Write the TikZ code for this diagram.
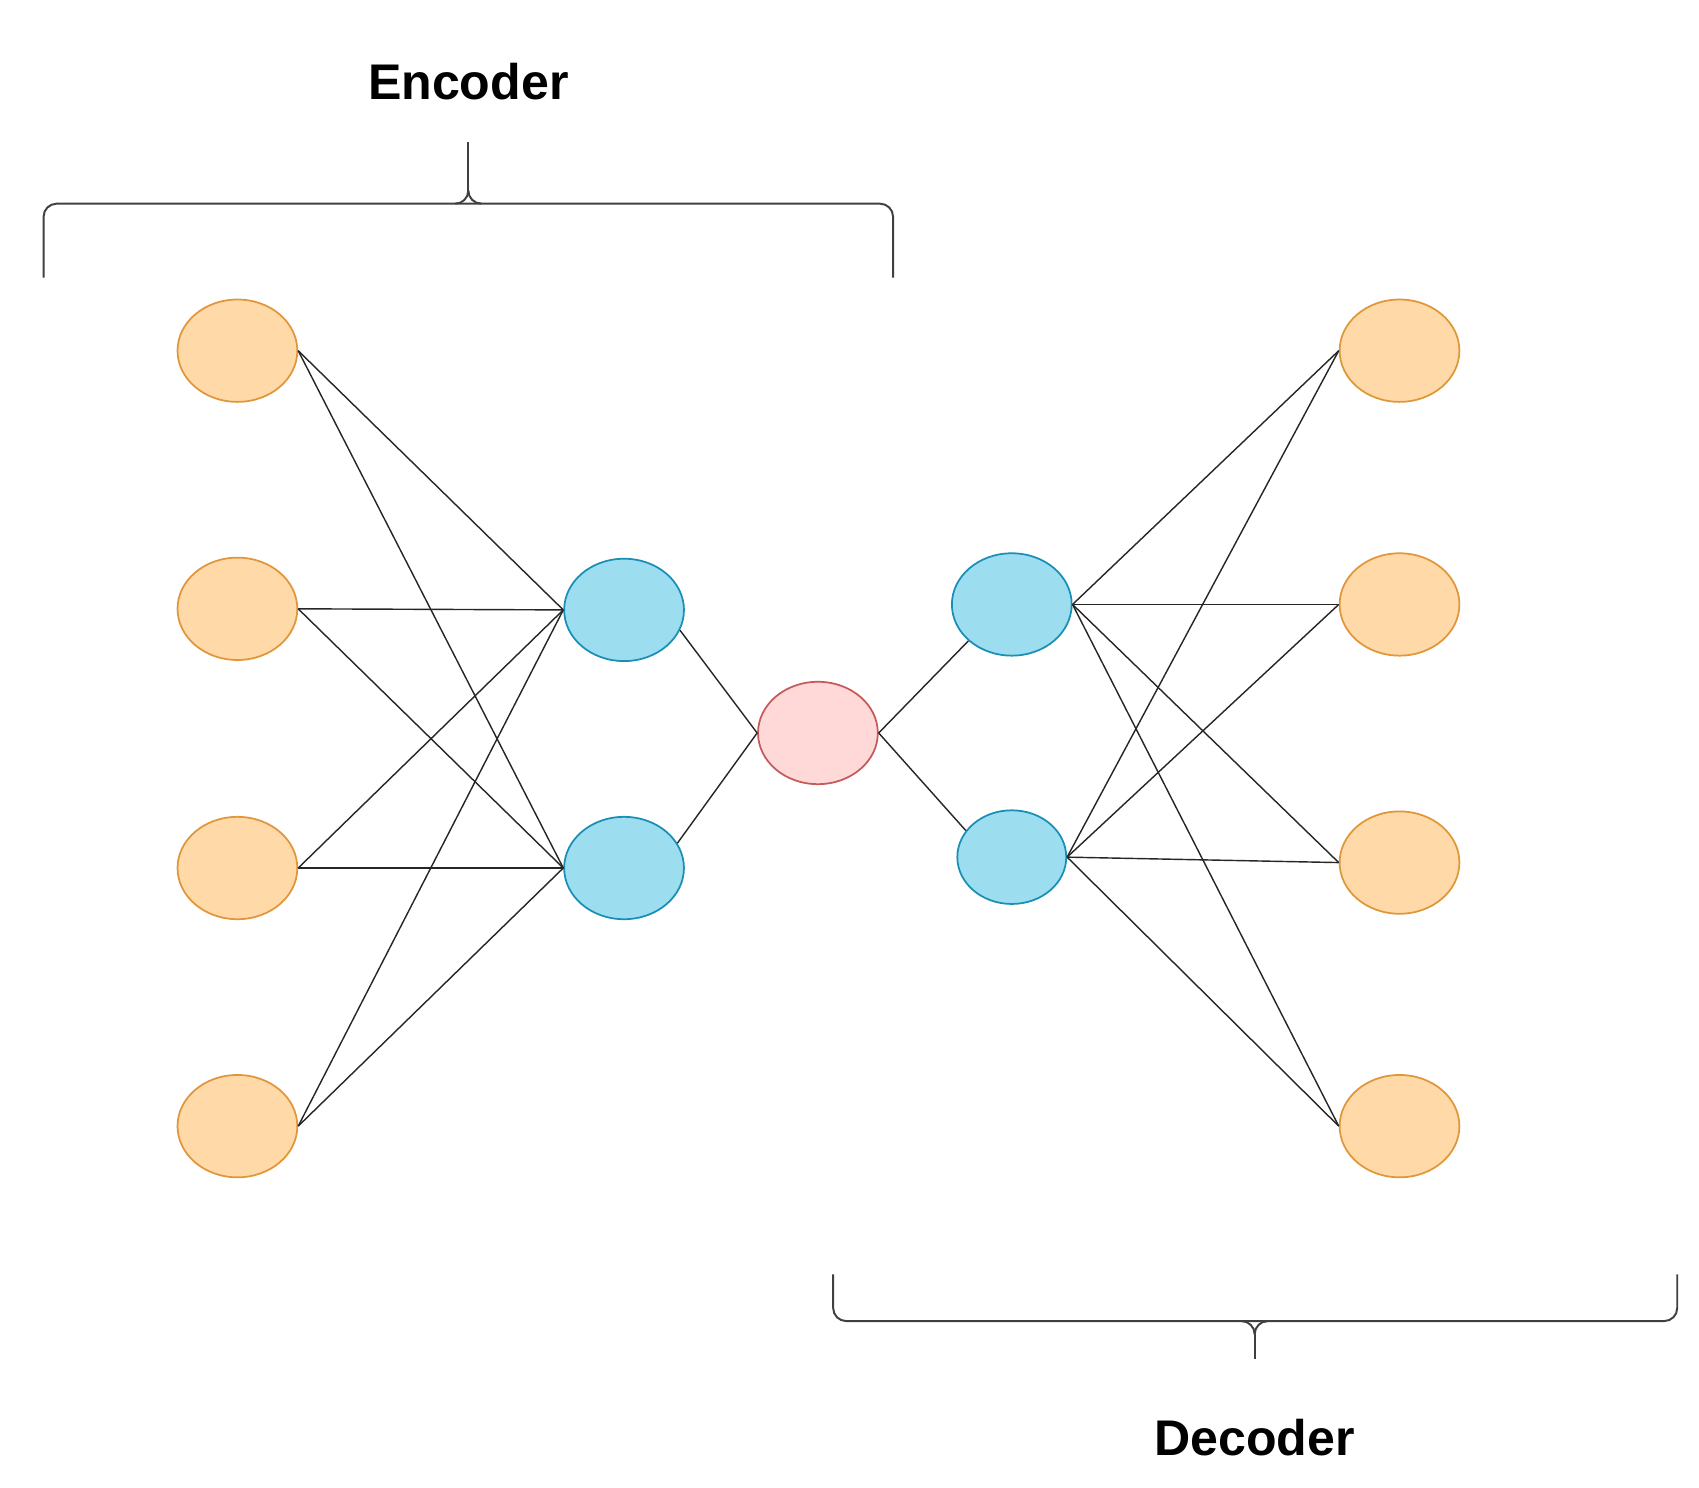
\documentclass[tikz,border=0pt]{standalone}
\usepackage{fontspec}
\setmainfont{Liberation Sans}
\usetikzlibrary{shapes.geometric}
\definecolor{ofill}{HTML}{FFD9A8}
\definecolor{oline}{HTML}{E0963A}
\definecolor{bfill}{HTML}{9CDDF0}
\definecolor{bline}{HTML}{1A8FB5}
\definecolor{pfill}{HTML}{FFD8D8}
\definecolor{pline}{HTML}{C55A5A}
\begin{document}
\begin{tikzpicture}[x=1pt,y=-1pt,
  neuron/.style={ellipse,draw,line width=1.6pt,minimum width=110pt,minimum height=94pt,inner sep=0pt},
  orange/.style={neuron,fill=ofill,draw=oline},
  blue/.style={neuron,fill=bfill,draw=bline},
  pink/.style={neuron,fill=pfill,draw=pline},
  edge/.style={line width=1.3pt,black!85},
  brace/.style={line width=1.8pt,black!75,rounded corners=12pt},
  lab/.style={font=\fontsize{46}{52}\selectfont\bfseries}]
\useasboundingbox (0,0) rectangle (1560,1366);
\foreach \i/\y in {1/322,2/559,3/797,4/1034} \node[orange] (l\i) at (218,\y) {};
\foreach \i/\y in {1/322,2/555,3/792,4/1034} \node[orange] (r\i) at (1285,\y) {};
\node[blue] (bl1) at (573,560) {};
\node[blue] (bl2) at (573,797) {};
\node[blue] (br1) at (929,555) {};
\node[blue,minimum width=100pt,minimum height=86pt] (br2) at (929,787) {};
\node[pink] (z) at (751,673) {};
\foreach \i in {1,...,4} \foreach \b in {bl1,bl2} \draw[edge] (l\i.east) -- (\b.west);
\foreach \i in {1,...,4} \foreach \b in {br1,br2} \draw[edge] (\b.east) -- (r\i.west);
\draw[edge] (bl1.-20) -- (z.west); \draw[edge] (bl2.25) -- (z.west);
\draw[edge] (z.east) -- (br1.220); \draw[edge] (z.east) -- (br2.150);
\coordinate (ea) at (40,255); \coordinate (eb) at (820,255); \coordinate (et) at (430,130);
\draw[brace] (ea) -- (40,187) -- (430,187) -- (820,187) -- (eb);
\draw[brace,rounded corners=0pt] (et) -- (430,175);
\draw[brace] (430,175) -- (430,187) -- (418,187);
\draw[brace] (430,175) -- (430,187) -- (442,187);
\node[lab] (enc) at (430,75) {Encoder};
\coordinate (da) at (765,1170); \coordinate (db) at (1540,1170); \coordinate (dt) at (1152,1248);
\draw[brace] (da) -- (765,1213) -- (1152,1213) -- (1540,1213) -- (db);
\draw[brace,rounded corners=0pt] (dt) -- (1152,1225);
\draw[brace] (1152,1225) -- (1152,1213) -- (1140,1213);
\draw[brace] (1152,1225) -- (1152,1213) -- (1164,1213);
\node[lab] (dec) at (1152,1320) {Decoder};
\end{tikzpicture}
\end{document}
